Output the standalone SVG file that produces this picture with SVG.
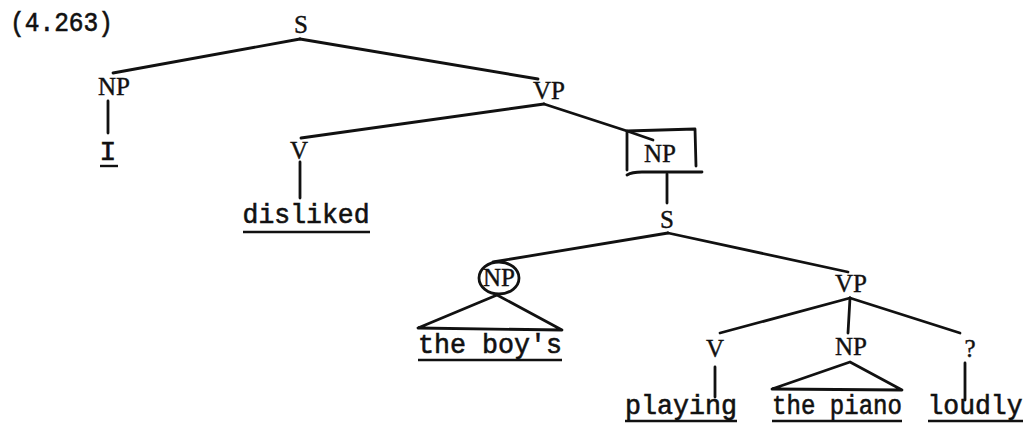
<svg xmlns="http://www.w3.org/2000/svg" width="1034" height="428" viewBox="0 0 1034 428">
<style>
.lab{font-family:"Liberation Serif","Times New Roman",serif;font-size:25px;fill:#111;stroke:#111;stroke-width:0.4;text-anchor:middle}
.w{font-family:"Liberation Mono","Courier New",monospace;font-size:28px;fill:#111;stroke:#111;stroke-width:0.6;text-anchor:middle}
.e{stroke:#111;stroke-width:2.8;fill:none;stroke-linecap:round;stroke-linejoin:round}
.u{stroke:#111;stroke-width:2.4;fill:none}
</style>
<rect width="1034" height="428" fill="#fff"/>
<text x="10" y="31" font-family="Liberation Mono, Courier New, monospace" font-size="27" fill="#111" stroke="#111" stroke-width="0.6" textLength="103" lengthAdjust="spacingAndGlyphs">(4.263)</text>
<g id="connectors">
<path class="e" d="M300,39 L113,73"/>
<path class="e" d="M300,39 L538,79"/>
<path class="e" d="M108,101 L108,133"/>
<path class="e" d="M544,104 L301,138"/>
<path class="e" d="M544,104 L627,131 L653,140"/>
<path class="e" d="M300,162 L300,198"/>
<path class="e" d="M667,174 L667,203"/>
<path class="e" d="M668,233 L493,262"/>
<path class="e" d="M668,233 L848,272"/>
<path class="e" d="M497,295 L418,328 L562,330 Z"/>
<path class="e" d="M850,298 L720,333"/>
<path class="e" d="M850,298 L848,333"/>
<path class="e" d="M850,298 L960,333"/>
<path class="e" d="M715,367 L715,397"/>
<path class="e" d="M850,362 L772,389 L902,390 Z"/>
<path class="e" d="M965,363 L965,400"/>
</g>
<g id="n-S1"><text class="lab" x="301" y="33">S</text></g>
<g id="n-NP1"><text class="lab" x="114" y="95">NP</text></g>
<g id="n-I"><text class="w" x="108" y="160">I</text><line class="u" x1="100" y1="166" x2="118" y2="166"/></g>
<g id="n-VP1"><text class="lab" x="549" y="99">VP</text></g>
<g id="n-V1"><text class="lab" x="299" y="159">V</text></g>
<g id="n-disliked"><text class="w" x="306" y="223" textLength="127" lengthAdjust="spacingAndGlyphs">disliked</text><line class="u" x1="243" y1="232" x2="370" y2="232"/></g>
<g id="n-NP2"><text class="lab" x="660" y="162">NP</text>
<path class="e" d="M627,131 L695,129 M627,131 L627,170 M695,129 L696,166 M627,175 Q632,172 642,172 L702,172"/></g>
<g id="n-S2"><text class="lab" x="667" y="228">S</text></g>
<g id="n-NP3"><ellipse class="e" cx="499" cy="278" rx="20" ry="16"/><text class="lab" x="499" y="286" font-size="21">NP</text></g>
<g id="n-boys"><text class="w" x="490" y="353" textLength="144" lengthAdjust="spacingAndGlyphs">the boy's</text><line class="u" x1="418" y1="360" x2="562" y2="360"/></g>
<g id="n-VP2"><text class="lab" x="851" y="292">VP</text></g>
<g id="n-V2"><text class="lab" x="715" y="357">V</text></g>
<g id="n-NP4"><text class="lab" x="851" y="355">NP</text></g>
<g id="n-Q"><text class="lab" x="970" y="357">?</text></g>
<g id="n-playing"><text class="w" x="681" y="414" textLength="112" lengthAdjust="spacingAndGlyphs">playing</text><line class="u" x1="625" y1="421" x2="737" y2="421"/></g>
<g id="n-piano"><text class="w" x="837" y="414" textLength="130" lengthAdjust="spacingAndGlyphs">the piano</text><line class="u" x1="772" y1="421" x2="902" y2="421"/></g>
<g id="n-loudly"><text class="w" x="975" y="414" textLength="95" lengthAdjust="spacingAndGlyphs">loudly</text><line class="u" x1="928" y1="421" x2="1023" y2="421"/></g>
</svg>
